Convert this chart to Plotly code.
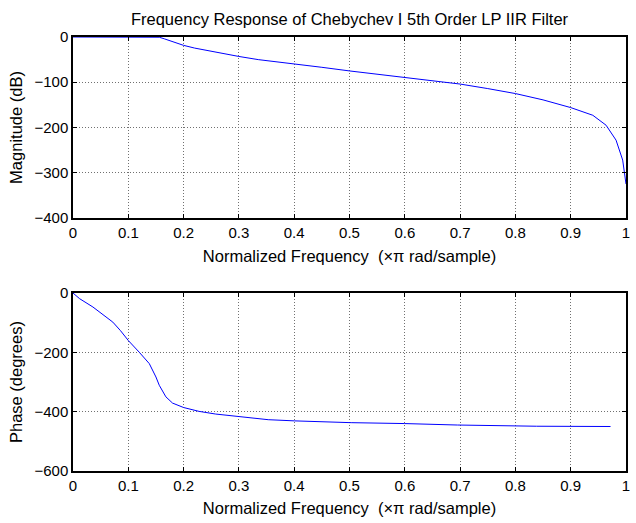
import plotly.graph_objects as go
from plotly.subplots import make_subplots

# Magnitude response (normalized frequency, dB)
mag_freq = [0.0, 0.05, 0.10, 0.15, 0.156, 0.165, 0.175, 0.185, 0.2, 0.22, 0.246, 0.27, 0.3,
            0.335, 0.37, 0.4, 0.45, 0.5, 0.55, 0.6, 0.65, 0.671, 0.7, 0.75, 0.8, 0.85,
            0.9, 0.94, 0.964, 0.982, 0.994, 1.0]
mag_db = [0.0, 0.0, 0.0, 0.0, -0.5, -4.0, -8.5, -13.0, -18.5, -24.5, -31.0, -36.5, -43.0,
          -50.0, -55.0, -59.0, -67.0, -75.0, -82.5, -89.0, -96.0, -100.0, -104.0, -114.0,
          -125.0, -139.0, -156.0, -173.0, -195.0, -228.0, -272.0, -325.0]

# Phase response (normalized frequency, degrees)
ph_freq = [0.0, 0.012, 0.036, 0.054, 0.072, 0.086, 0.1, 0.12, 0.138, 0.15, 0.156, 0.168,
           0.18, 0.2, 0.228, 0.258, 0.3, 0.353, 0.401, 0.503, 0.599, 0.695, 0.838, 0.972]
ph_deg = [0.0, -19.0, -47.0, -73.0, -98.0, -127.0, -160.0, -200.0, -238.0, -283.0, -311.0,
          -350.0, -371.0, -386.0, -399.0, -408.0, -417.0, -427.0, -431.0, -437.0, -440.0,
          -445.0, -449.0, -450.0]

x_ticks = [0, 0.1, 0.2, 0.3, 0.4, 0.5, 0.6, 0.7, 0.8, 0.9, 1]
x_labels = ["0", "0.1", "0.2", "0.3", "0.4", "0.5", "0.6", "0.7", "0.8", "0.9", "1"]
mag_ticks = [0, -100, -200, -300, -400]
ph_ticks = [0, -200, -400, -600]

title_text = "Frequency Response of Chebychev I 5th Order LP IIR Filter"
xlabel = "Normalized Frequency  (\u00d7\u03c0 rad/sample)"

FONT = "Liberation Sans, Arial, Helvetica, sans-serif"
TICK_SIZE = 15
LABEL_SIZE = 16.5

fig = make_subplots(rows=2, cols=1, vertical_spacing=0.0)

fig.add_trace(go.Scatter(x=mag_freq, y=mag_db, mode="lines",
                         line=dict(color="#0000ff", width=1), showlegend=False), row=1, col=1)
fig.add_trace(go.Scatter(x=ph_freq, y=ph_deg, mode="lines",
                         line=dict(color="#0000ff", width=1), showlegend=False), row=2, col=1)

axis_common = dict(showline=True, linecolor="black", linewidth=1.5, mirror="allticks",
                   ticks="inside", ticklen=4, tickcolor="black", tickwidth=1,
                   showgrid=True, gridcolor="#707070", griddash="1px,2px", gridwidth=1,
                   zeroline=False, tickfont=dict(family=FONT, size=TICK_SIZE, color="black"))

fig.update_xaxes(axis_common)
fig.update_yaxes(axis_common)

label_font = dict(family=FONT, size=LABEL_SIZE, color="black")

fig.update_xaxes(range=[0, 1], tickvals=x_ticks, ticktext=x_labels, domain=[0, 1],
                 title=dict(text=xlabel, font=label_font, standoff=11), row=1, col=1)
fig.update_xaxes(range=[0, 1], tickvals=x_ticks, ticktext=x_labels, domain=[0, 1],
                 title=dict(text=xlabel, font=label_font, standoff=10), row=2, col=1)
fig.update_yaxes(range=[-400, 0], tickvals=mag_ticks, domain=[0.583, 1.0],
                 title=dict(text="Magnitude (dB)", font=label_font, standoff=8), row=1, col=1)
fig.update_yaxes(range=[-600, 0], tickvals=ph_ticks, domain=[0.0, 0.41],
                 title=dict(text="Phase (degrees)", font=label_font, standoff=8), row=2, col=1)

fig.update_layout(
    width=636, height=523,
    margin=dict(l=73, r=6, t=37, b=52),
    paper_bgcolor="white", plot_bgcolor="white",
    title=dict(text=title_text, x=0.5, xanchor="center", y=1 - 19 / 523, yanchor="middle",
               xref="paper", font=dict(family=FONT, size=LABEL_SIZE, color="black")),
    showlegend=False,
)

fig.write_html("out.html")
